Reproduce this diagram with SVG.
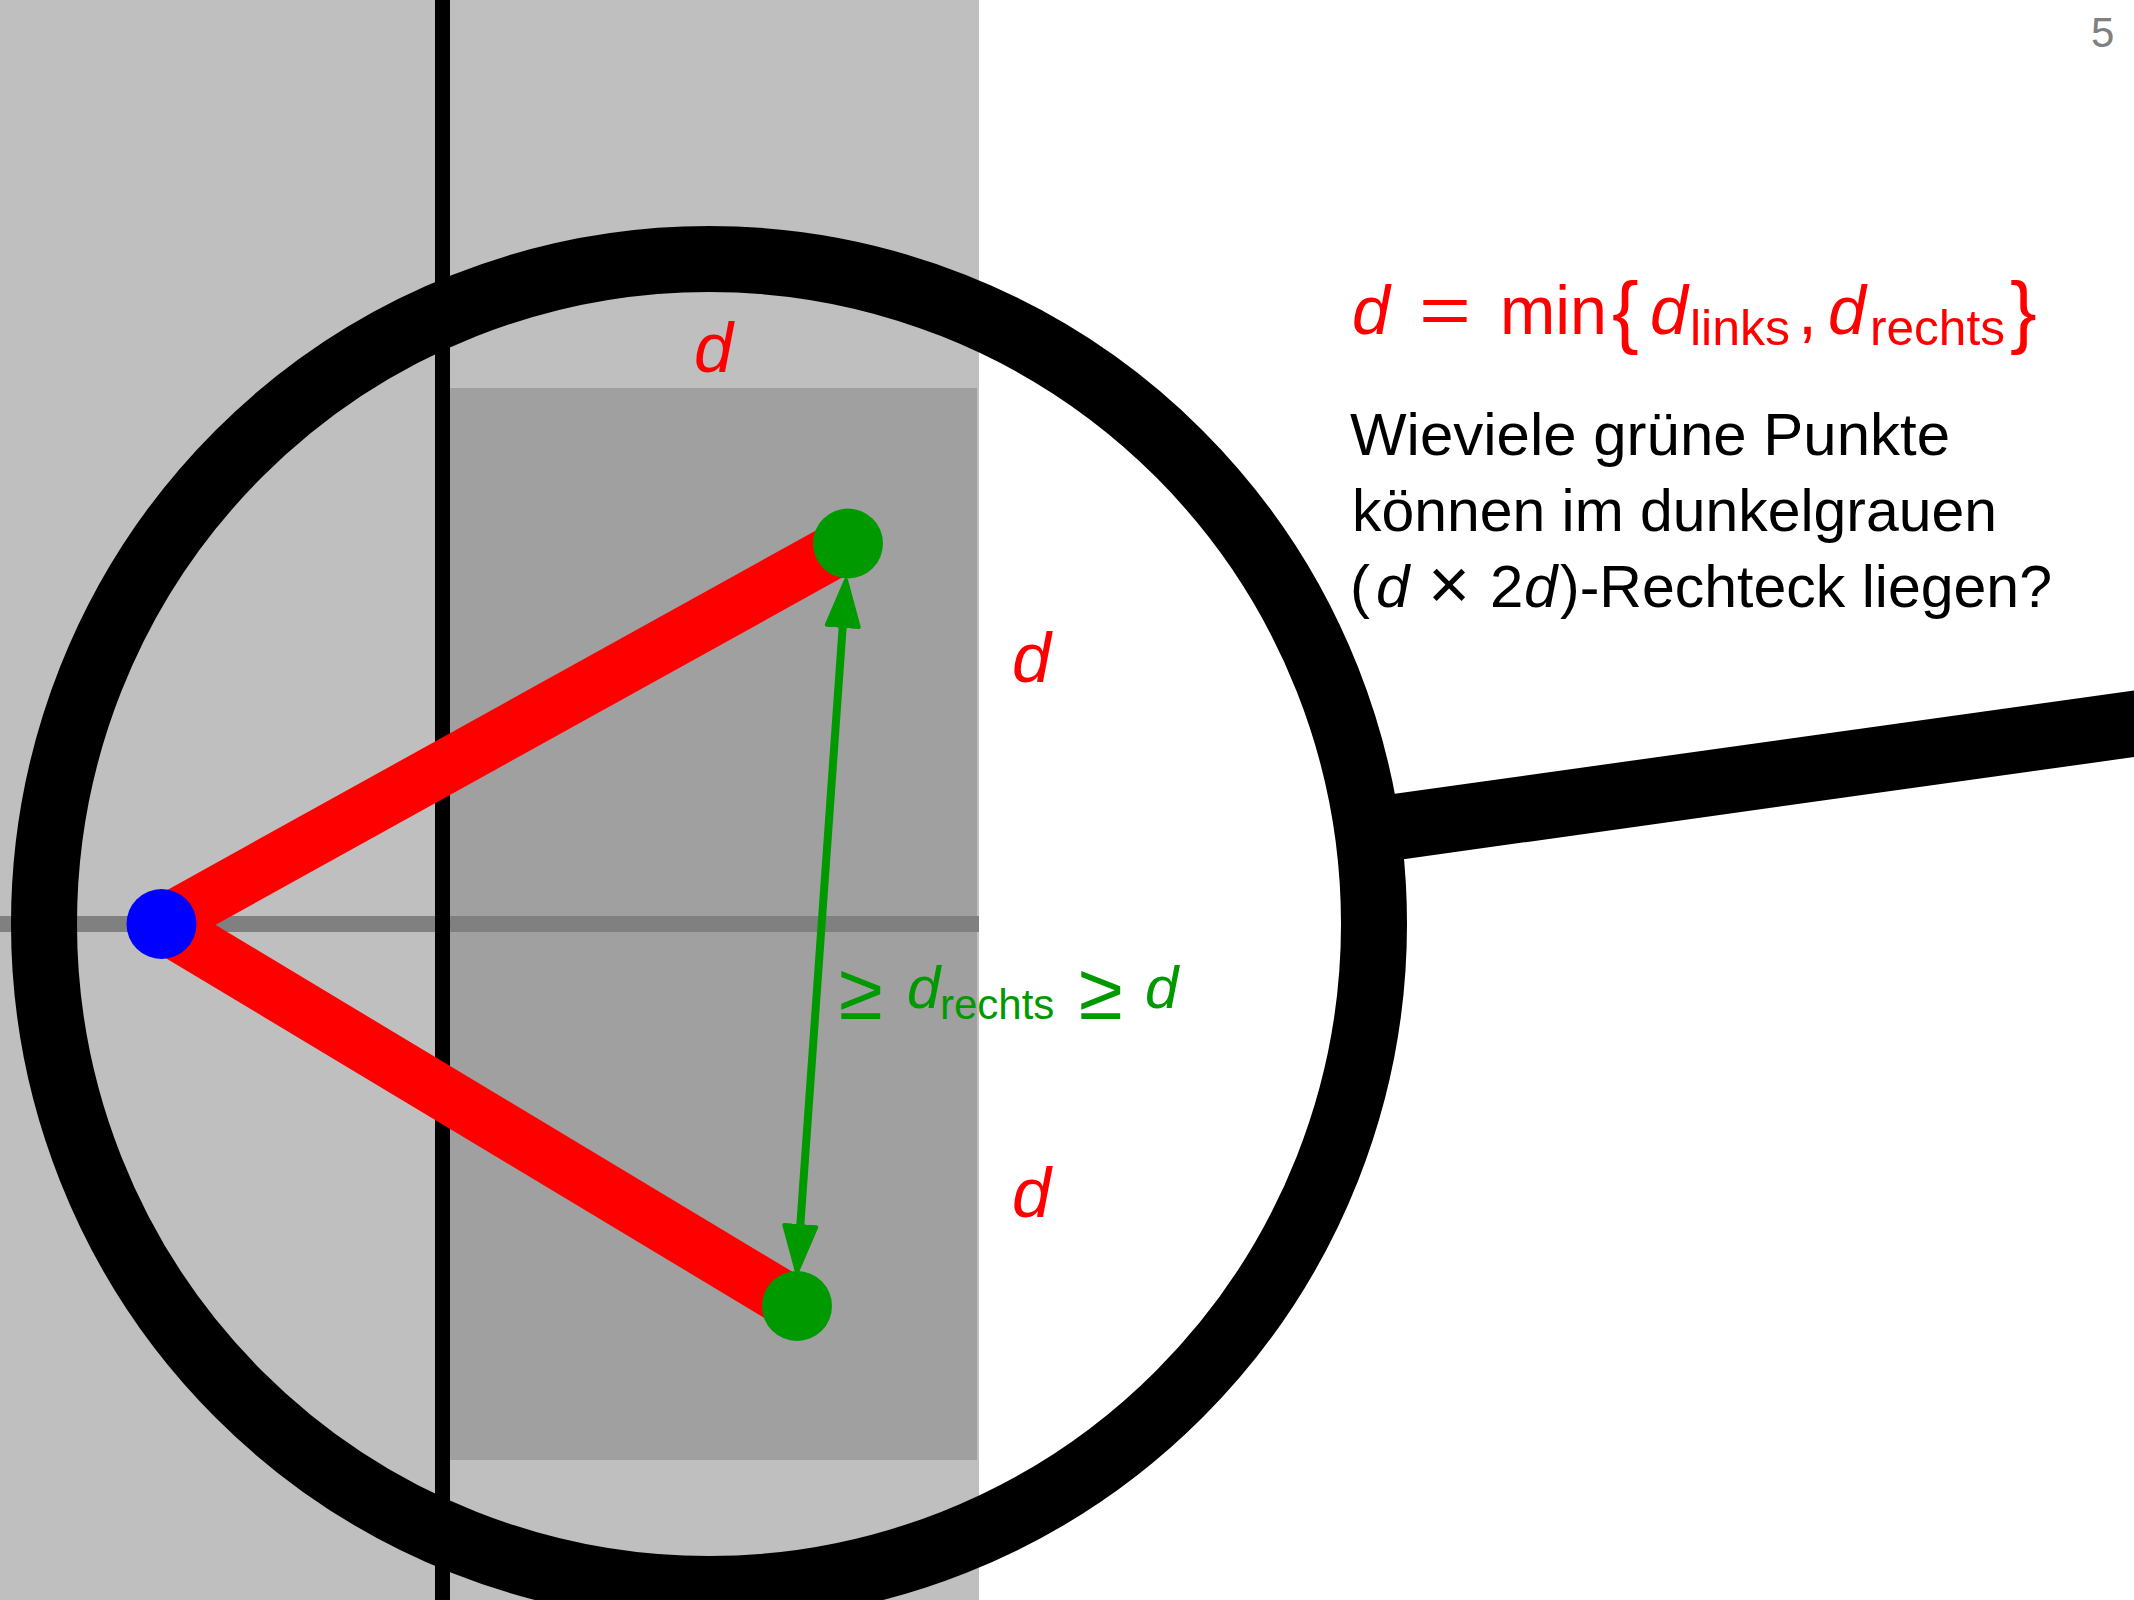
<svg xmlns="http://www.w3.org/2000/svg" width="2134" height="1600" viewBox="0 0 2134 1600">
<style>
  text { font-family: "Liberation Sans", Arial, sans-serif; }
  .it { font-style: italic; }
  .red { fill: #ff0000; }
  .grn { fill: #009900; }
  .blk { fill: #000000; }
  .redline { stroke: #ff0000; stroke-width: 54; stroke-linecap: butt; fill: none; }
</style>
<defs>
  <marker id="ah" viewBox="0 0 50 40" refX="4" refY="20" markerWidth="50" markerHeight="40" markerUnits="userSpaceOnUse" orient="auto-start-reverse">
    <path d="M2,4 L48,20 L2,36 Z" fill="#009900" stroke="#009900" stroke-width="4" stroke-linejoin="round"/>
  </marker>
</defs>
<rect x="0" y="0" width="2134" height="1600" fill="#ffffff"/>

<g id="regions">
  <rect id="strip" x="0" y="0" width="979" height="1600" fill="#bfbfbf"/>
  <rect id="rect-d-2d" x="450" y="388" width="527" height="1072" fill="#a0a0a0"/>
  <rect id="hline" x="0" y="916" width="979" height="16" fill="#808080"/>
  <rect id="vline" x="435" y="0" width="15" height="1600" fill="#000000"/>
</g>

<g id="magnifier">
  <circle cx="709" cy="924" r="665" fill="none" stroke="#000000" stroke-width="66"/>
  <line x1="1360" y1="832" x2="2200" y2="714.5" stroke="#000000" stroke-width="66"/>
</g>

<g id="connectors">
  <line class="redline" x1="161.5" y1="924" x2="848" y2="543.5"/>
  <line class="redline" x1="161.5" y1="924" x2="797" y2="1306"/>
  <line x1="842.9" y1="623.9" x2="800.1" y2="1228.1" stroke="#009900" stroke-width="8" marker-start="url(#ah)" marker-end="url(#ah)"/>
</g>

<g id="point-blue"><circle cx="161.5" cy="924" r="35" fill="#0000ff"/></g>
<g id="point-green-top"><circle cx="848" cy="543.5" r="35" fill="#009900"/></g>
<g id="point-green-bottom"><circle cx="797" cy="1306" r="35" fill="#009900"/></g>

<g id="labels-d">
  <text class="red it" x="694" y="372" font-size="70">d</text>
  <text class="red it" x="1012" y="682" font-size="70">d</text>
  <text class="red it" x="1012" y="1217" font-size="70">d</text>
</g>

<g id="label-distance">
  <text class="grn" x="839" y="1019" font-size="80">≥</text>
  <text class="grn it" x="907" y="1008" font-size="60">d</text>
  <text class="grn" x="940" y="1019" font-size="42">rechts</text>
  <text class="grn" x="1079" y="1019" font-size="80">≥</text>
  <text class="grn it" x="1145" y="1008" font-size="60">d</text>
</g>

<g id="formula">
  <text class="red it" x="1352" y="334" font-size="68">d</text>
  <text class="red" x="1419" y="334" font-size="68" textLength="52" lengthAdjust="spacingAndGlyphs">=</text>
  <text class="red" x="1500" y="334" font-size="68" textLength="107" lengthAdjust="spacingAndGlyphs">min</text>
  <text class="red" x="1612" y="338" font-size="80">{</text>
  <text class="red it" x="1650" y="334" font-size="68">d</text>
  <text class="red" x="1690" y="345" font-size="50" textLength="100" lengthAdjust="spacingAndGlyphs">links</text>
  <text class="red" x="1798" y="334" font-size="68">,</text>
  <text class="red it" x="1828" y="334" font-size="68">d</text>
  <text class="red" x="1870" y="345" font-size="50" textLength="135" lengthAdjust="spacingAndGlyphs">rechts</text>
  <text class="red" x="2010" y="338" font-size="80">}</text>
</g>

<g id="question">
  <text class="blk" x="1350" y="455" font-size="60" textLength="600" lengthAdjust="spacingAndGlyphs">Wieviele grüne Punkte</text>
  <text class="blk" x="1352" y="531" font-size="60" textLength="645" lengthAdjust="spacingAndGlyphs">können im dunkelgrauen</text>
  <text class="blk" x="1350" y="607" font-size="60">(</text>
  <text class="blk it" x="1376" y="607" font-size="60">d</text>
  <text class="blk" x="1428" y="609" font-size="72">×</text>
  <text class="blk" x="1490" y="607" font-size="60">2</text>
  <text class="blk it" x="1524" y="607" font-size="60">d</text>
  <text class="blk" x="1560" y="607" font-size="60" textLength="492" lengthAdjust="spacingAndGlyphs">)-Rechteck liegen?</text>
</g>

<g id="page-number">
  <text x="2091" y="47" font-size="42" fill="#808080">5</text>
</g>
</svg>
